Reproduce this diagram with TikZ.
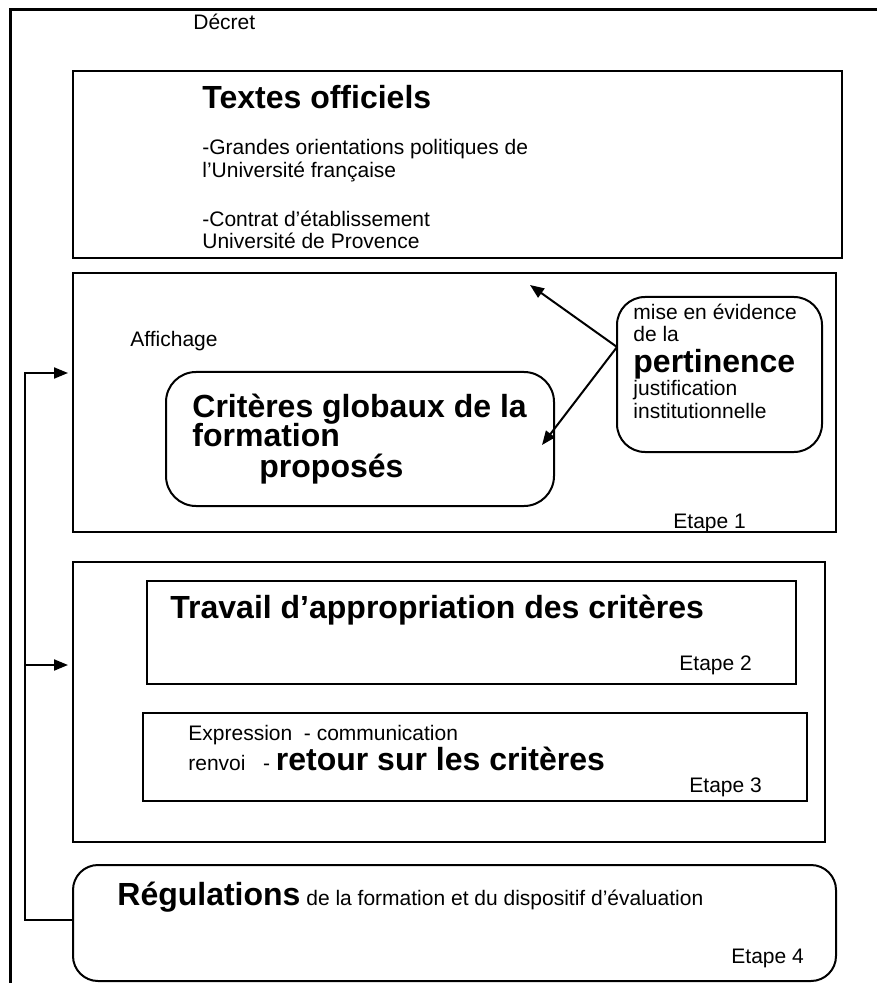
\documentclass[tikz,border=0pt]{standalone}
\usepackage{fontspec}
\setmainfont{Liberation Sans}
\usetikzlibrary{positioning,arrows.meta,calc,fit}

\newcommand{\normtxt}{\fontsize{10.5}{12}\selectfont}
\newcommand{\bigtxt}{\fontsize{16}{18}\selectfont\bfseries}

\begin{document}
\begin{tikzpicture}[x=0.5pt,y=-0.5pt, % one unit = one pixel of the page, y downwards
  frame/.style={draw, line width=1pt, inner sep=0pt},
  txt/.style={anchor=base west, inner sep=0pt, font=\normtxt},
  big/.style={txt, font=\bigtxt},
  link/.style={line width=1pt},
  tip/.style={-{Triangle[length=7pt,width=5.5pt]}}]

\useasboundingbox (0,0) rectangle (877,983);

% Outer frame (top and left side only)
\draw[line width=1.5pt] (877,10) -- (10,10) -- (10,983);
\node[txt] (decret) at (193,30) {Décret};

% Step boxes
\node[frame, fit={(73,71) (842,258)}] (textes) {};
\node[frame, fit={(73,273) (836,532)}] (aff) {};
\node[frame, rounded corners=15pt, fit={(166,372) (554,506)}] (crit) {};
\node[frame, rounded corners=14pt, fit={(617,297) (822,452)}] (pert) {};
\node[frame, fit={(73,562) (825,842)}] (etp) {};
\node[frame, fit={(147,581) (796,684)}] (trav) {};
\node[frame, fit={(143,713) (807,801)}] (expr) {};
\node[frame, rounded corners=12.5pt, fit={(73,865) (836,981)}] (reg) {};

% Texts of the official box
\node[big] (titre) at (202,109) {Textes officiels};
\foreach \y/\t in {155/{-Grandes orientations politiques de},
                   178/{l’Université française},
                   227/{-Contrat d’établissement},
                   249/{Université de Provence}} {
  \node[txt] (off\y) at (202,\y) {\t};
}

% Step 1
\node[txt] (affich) at (130,347) {Affichage};
\node[big] (crit1) at (192,417) {Critères globaux de la};
\node[big] (crit2) at (192,446) {formation};
\node[big] (crit3) at (259,477) {proposés};
\foreach \y/\t in {320/{mise en évidence}, 342/{de la},
                   395/{justification}, 418/{institutionnelle}} {
  \node[txt] (pert\y) at (633,\y) {\t};
}
\node[big] (pertw) at (633,372) {pertinence};
\node[txt] (etape1) at (673,528) {Etape 1};

% Steps 2 and 3
\node[big] (travw) at (170,618) {Travail d’appropriation des critères};
\node[txt] (etape2) at (679,670) {Etape 2};
\node[txt] (exprw) at (188,740) {Expression\ \ - communication};
\node[txt] (renvoi) at (188,770) {renvoi\ \ \ - {\bigtxt retour sur les critères}};
\node[txt] (etape3) at (689,792) {Etape 3};

% Step 4
\node[txt] (regw) at (117,905) {{\bigtxt Régulations} de la formation et du dispositif d’évaluation};
\node[txt] (etape4) at (731,963) {Etape 4};

% Arrows from the pertinence box
\coordinate (src) at (617,347);
\coordinate (tipA) at (530,285);
\coordinate (tipB) at (542,445);
\draw[link,tip] (src) -- (tipA);
\draw[link,tip] (src) -- (tipB);

% Feedback loop on the left
\coordinate (busTop) at (25,373);
\coordinate (busMid) at (25,665);
\coordinate (busLow) at (25,920);
\draw[link,tip] (reg.west |- busLow) -| (busTop) -- ([xshift=-2pt]aff.west |- busTop);
\draw[link,tip] (busMid) -- ([xshift=-2pt]etp.west |- busMid);
\end{tikzpicture}
\end{document}
